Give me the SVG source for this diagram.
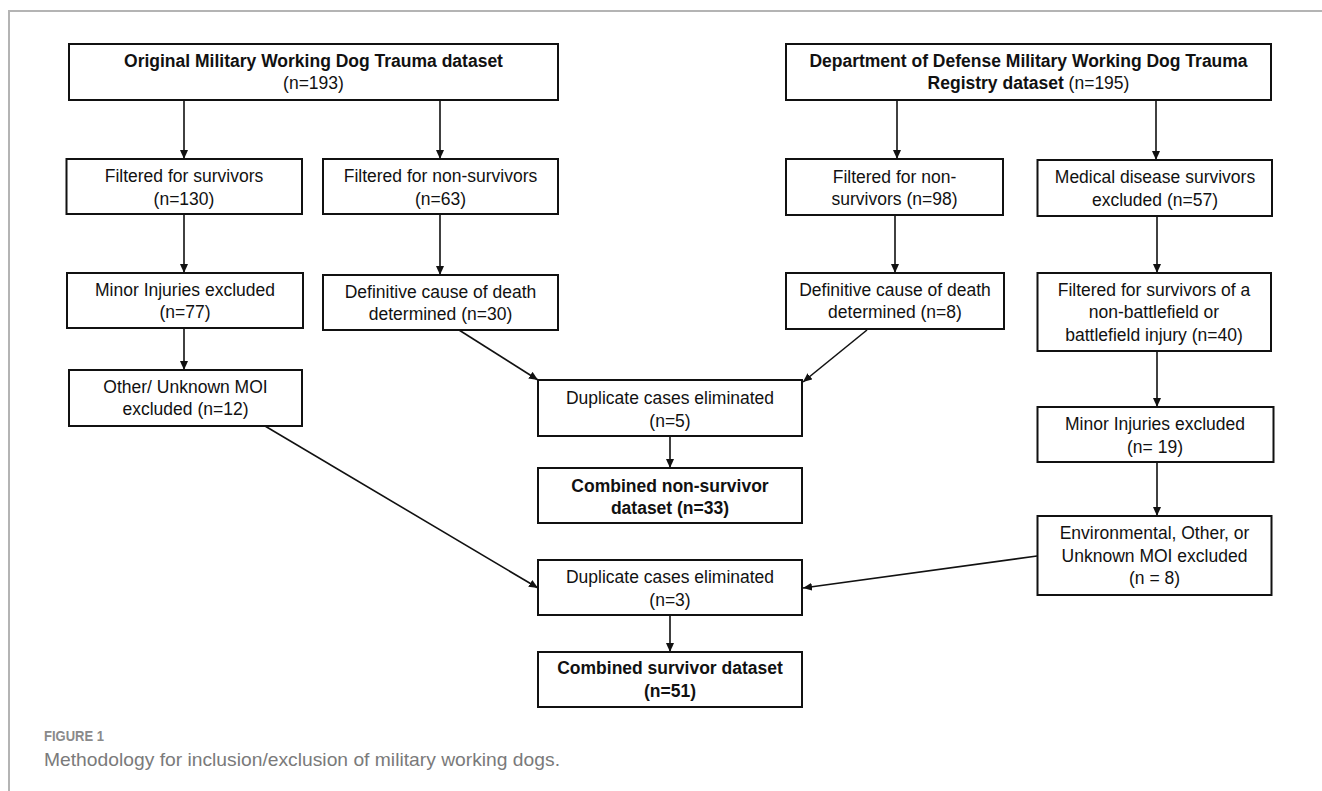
<svg xmlns="http://www.w3.org/2000/svg" width="1322" height="791" viewBox="0 0 1322 791">
<style>
.box{fill:#fff;stroke:#111;stroke-width:2}
.t{font-family:"Liberation Sans",Arial,sans-serif;font-size:17.5px;fill:#111;text-anchor:middle}
.b{font-weight:bold}
.bb{font-family:"Liberation Sans",Arial,sans-serif;font-size:17.5px;font-weight:bold;fill:#111;text-anchor:middle}
.c{stroke:#111;stroke-width:1.6;fill:none;marker-end:url(#ah)}
.frame{stroke:#b4b4b4;stroke-width:2;fill:none}
.cap1{font-family:"Liberation Sans",Arial,sans-serif;font-size:14px;font-weight:bold;fill:#8a8a8a}
.cap2{font-family:"Liberation Sans",Arial,sans-serif;font-size:19px;fill:#7a7a7a}
</style>
<defs>
<marker id="ah" markerUnits="userSpaceOnUse" markerWidth="10" markerHeight="8" refX="9" refY="4" orient="auto">
<path d="M0,0 L9,4 L0,8 z" fill="#111"/>
</marker>
</defs>
<rect width="1322" height="791" fill="#fff"/>
<path class="frame" d="M9,791 V11 H1322"/>

<g id="connectors">
<line class="c" x1="184" y1="100" x2="184" y2="159"/>
<line class="c" x1="440" y1="100" x2="440" y2="159"/>
<line class="c" x1="184" y1="214" x2="184" y2="273"/>
<line class="c" x1="440" y1="214" x2="440" y2="275"/>
<line class="c" x1="184" y1="328" x2="184" y2="370"/>
<line class="c" x1="459" y1="330" x2="538" y2="380"/>
<line class="c" x1="897" y1="100" x2="897" y2="159"/>
<line class="c" x1="1156" y1="100" x2="1156" y2="160"/>
<line class="c" x1="895" y1="215" x2="895" y2="273"/>
<line class="c" x1="1157" y1="216" x2="1157" y2="273"/>
<line class="c" x1="867" y1="330" x2="803" y2="382"/>
<line class="c" x1="1157" y1="351" x2="1157" y2="407"/>
<line class="c" x1="1157" y1="462" x2="1157" y2="516"/>
<line class="c" x1="670" y1="436" x2="670" y2="468"/>
<line class="c" x1="265" y1="426" x2="538" y2="588"/>
<line class="c" x1="1037" y1="556" x2="803" y2="588"/>
<line class="c" x1="670" y1="615" x2="670" y2="652"/>
</g>

<g id="n-original">
<rect class="box" x="69" y="44" width="489" height="56"/>
<text class="t b" x="313.5" y="67">Original Military Working Dog Trauma dataset</text>
<text class="t" x="313.5" y="89">(n=193)</text>
</g>
<g id="n-filtered-survivors">
<rect class="box" x="66.5" y="159" width="235.5" height="55"/>
<text class="t" x="184" y="182">Filtered for survivors</text>
<text class="t" x="184" y="205">(n=130)</text>
</g>
<g id="n-filtered-nonsurvivors">
<rect class="box" x="323" y="159" width="235" height="55"/>
<text class="t" x="440.5" y="182">Filtered for non-survivors</text>
<text class="t" x="440.5" y="205">(n=63)</text>
</g>
<g id="n-minor-77">
<rect class="box" x="67" y="273" width="236" height="55"/>
<text class="t" x="185" y="296">Minor Injuries excluded</text>
<text class="t" x="185" y="318">(n=77)</text>
</g>
<g id="n-definitive-30">
<rect class="box" x="323" y="275" width="235" height="55"/>
<text class="t" x="440.5" y="298">Definitive cause of death</text>
<text class="t" x="440.5" y="320">determined (n=30)</text>
</g>
<g id="n-other-moi">
<rect class="box" x="69" y="370" width="233" height="56"/>
<text class="t" x="185.5" y="393">Other/ Unknown MOI</text>
<text class="t" x="185.5" y="415">excluded (n=12)</text>
</g>
<g id="n-duplicate-5">
<rect class="box" x="538" y="380" width="264" height="56"/>
<text class="t" x="670" y="404">Duplicate cases eliminated</text>
<text class="t" x="670" y="427">(n=5)</text>
</g>
<g id="n-combined-nonsurvivor">
<rect class="box" x="538" y="468" width="264" height="55"/>
<text class="bb" x="670" y="492">Combined non-survivor</text>
<text class="bb" x="670" y="514">dataset (n=33)</text>
</g>
<g id="n-duplicate-3">
<rect class="box" x="538" y="560" width="264" height="55"/>
<text class="t" x="670" y="583">Duplicate cases eliminated</text>
<text class="t" x="670" y="606">(n=3)</text>
</g>
<g id="n-combined-survivor">
<rect class="box" x="538" y="652" width="264" height="55"/>
<text class="bb" x="670" y="674">Combined survivor dataset</text>
<text class="bb" x="670" y="697">(n=51)</text>
</g>
<g id="n-department">
<rect class="box" x="786" y="44" width="485" height="56"/>
<text class="t b" x="1028.5" y="67">Department of Defense Military Working Dog Trauma</text>
<text class="t" x="1028.5" y="89"><tspan class="b">Registry dataset</tspan> (n=195)</text>
</g>
<g id="n-filtered-nonsurvivors-98">
<rect class="box" x="786" y="159" width="217" height="56"/>
<text class="t" x="894.5" y="183">Filtered for non-</text>
<text class="t" x="894.5" y="205">survivors (n=98)</text>
</g>
<g id="n-medical-disease">
<rect class="box" x="1037.5" y="160" width="234.5" height="56"/>
<text class="t" x="1155" y="183">Medical disease survivors</text>
<text class="t" x="1155" y="206">excluded (n=57)</text>
</g>
<g id="n-definitive-8">
<rect class="box" x="786" y="273" width="218" height="56"/>
<text class="t" x="895" y="296">Definitive cause of death</text>
<text class="t" x="895" y="318">determined (n=8)</text>
</g>
<g id="n-filtered-battlefield">
<rect class="box" x="1037.5" y="273" width="233.5" height="78"/>
<text class="t" x="1154" y="296">Filtered for survivors of a</text>
<text class="t" x="1154" y="318">non-battlefield or</text>
<text class="t" x="1154" y="341">battlefield injury (n=40)</text>
</g>
<g id="n-minor-19">
<rect class="box" x="1037.5" y="407" width="236" height="55"/>
<text class="t" x="1155" y="430">Minor Injuries excluded</text>
<text class="t" x="1155" y="453">(n= 19)</text>
</g>
<g id="n-environmental">
<rect class="box" x="1037.5" y="516" width="234" height="79"/>
<text class="t" x="1154.5" y="539">Environmental, Other, or</text>
<text class="t" x="1154.5" y="562">Unknown MOI excluded</text>
<text class="t" x="1154.5" y="584">(n = 8)</text>
</g>

<text class="cap1" x="44" y="741" textLength="60" lengthAdjust="spacingAndGlyphs">FIGURE 1</text>
<text class="cap2" x="44" y="766" textLength="516" lengthAdjust="spacingAndGlyphs">Methodology for inclusion/exclusion of military working dogs.</text>
</svg>
